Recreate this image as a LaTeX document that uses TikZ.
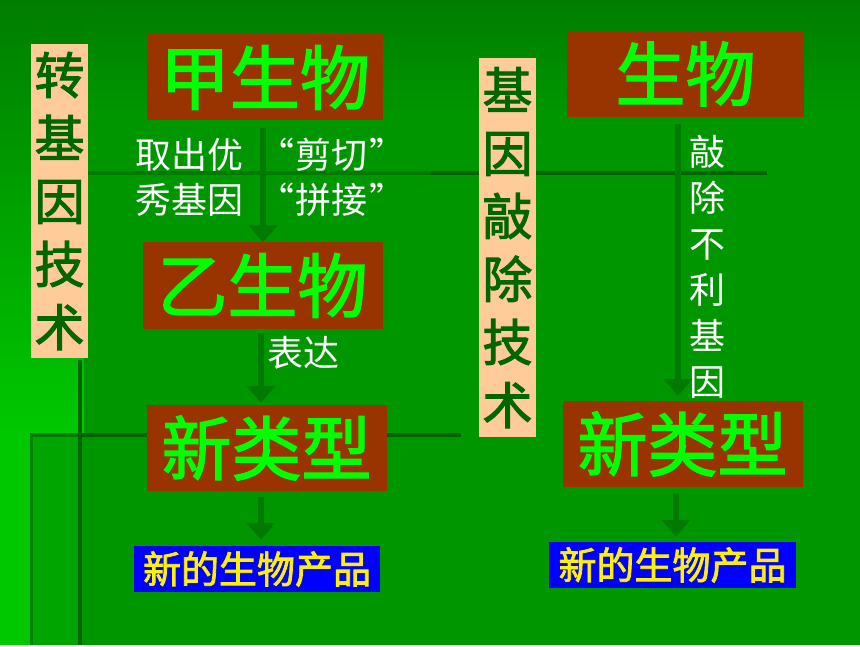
\documentclass[tikz,border=0pt]{standalone}
\usepackage{fontspec}
\setmainfont{Noto Sans CJK SC}
\newfontfamily\semibold[FakeBold=2]{Noto Sans CJK SC}
\usepackage{xcolor}
\definecolor{bg-green}{RGB}{0,150,0}
\definecolor{bg-dark}{RGB}{0,125,0}
\definecolor{bg-light}{RGB}{0,200,0}
\definecolor{line-green}{RGB}{0,100,0}
\definecolor{arrow-green}{RGB}{0,122,0}
\definecolor{brick}{RGB}{153,51,0}
\definecolor{peach}{RGB}{255,204,153}
\definecolor{leaf}{RGB}{0,255,0}
\definecolor{moss}{RGB}{0,102,0}
\definecolor{panel-green}{RGB}{0,165,0}
\usetikzlibrary{arrows.meta}

\begin{document}
\begin{tikzpicture}[
    x=1pt, y=-1pt,
    bio box/.style={
        fill=brick,
        text=leaf,
        inner sep=0pt,
        minimum width=240pt,
        minimum height=86pt,
        font=\fontsize{70}{70}\selectfont\semibold
    },
    tech box/.style={
        fill=peach,
        text=moss,
        inner sep=0pt,
        minimum width=57pt,
        align=center,
        font=\fontsize{50}{63}\selectfont\semibold
    },
    product box/.style={
        fill=blue,
        text=yellow,
        inner sep=0pt,
        minimum width=246pt,
        minimum height=46pt,
        font=\fontsize{38}{38}\selectfont\semibold
    },
    note/.style={
        text=white,
        inner sep=0pt,
        align=center,
        font=\fontsize{36}{45}\selectfont
    },
    deco line/.style={line-green, line width=4pt},
    faint line/.style={line-green!55!bg-green, line width=4pt},
    arrow/.style={-{Triangle[width=28pt,length=17pt]}, arrow-green, line width=6pt}
]

% Background
\fill[bg-green] (0,0) rectangle (860,645);
\shade[top color=bg-dark, bottom color=bg-green] (0,0) rectangle (860,110);
\shade[top color=bg-dark, bottom color=bg-light] (0,0) rectangle (84,435);
\fill[bg-light] (0,435) rectangle (30,645);
\fill[panel-green] (30,435) rectangle (80,645);
\draw[faint line] (88,173) -- (430,173);
\draw[deco line] (430,173) -- (767,173);
\draw[faint line] (30,435) -- (80,435);
\draw[deco line] (80,435) -- (461,435);
\draw[deco line] (80,360) -- (80,645);
\draw[line-green!45!bg-green, line width=3pt] (31,435) -- (31,645);

% Transgenic side
\node[tech box, minimum height=314pt] (transTech) at (59.5,201) {转\\基\\因\\技\\术};
\node[bio box, minimum width=236pt] (bioA) at (265,77.5) {甲生物};
\node[bio box] (bioB) at (262.5,285.5) {乙生物};
\node[bio box] (newA) at (266.5,448) {新类型};
\node[product box] (prodA) at (257,569) {新的生物产品};

\node[note] (pickGene) at (189,177) {取出优\\秀基因};
\node[note] (cutJoin) at (332,177) {“\kern2pt 剪切\kern2pt”\\“\kern2pt 拼接\kern2pt”};
\node[note] (express) at (303,353) {表达};

% Knockout side
\node[tech box, minimum height=379pt] (knockTech) at (507.5,247.5) {基\\因\\敲\\除\\技\\术};
\node[bio box, minimum width=237pt] (bioC) at (685.5,74) {生物};
\node[bio box] (newB) at (682.5,444) {新类型};
\node[product box, minimum width=247pt] (prodB) at (672.5,565) {新的生物产品};

\node[note, font=\fontsize{36}{46}\selectfont] (knockGene) at (707,267) {敲\\除\\不\\利\\基\\因};

% Arrows
\draw[arrow, shorten <=7pt] ([xshift=-2pt]bioA.south) -- ([xshift=-2pt]bioA.south |- bioB.north);
\draw[arrow, shorten <=4pt, shorten >=2pt] ([xshift=-1.5pt]bioB.south) -- ([xshift=-1.5pt]bioB.south |- newA.north);
\draw[arrow, shorten <=6pt, shorten >=6pt] ([xshift=-5.5pt]newA.south) -- ([xshift=-5.5pt]newA.south |- prodA.north);
\draw[arrow, shorten <=7pt, shorten >=5pt] ([xshift=-7.5pt]bioC.south) -- ([xshift=-7.5pt]bioC.south |- newB.north);
\draw[arrow, shorten <=6pt, shorten >=5pt] ([xshift=-6.5pt]newB.south) -- ([xshift=-6.5pt]newB.south |- prodB.north);

\end{tikzpicture}
\end{document}
